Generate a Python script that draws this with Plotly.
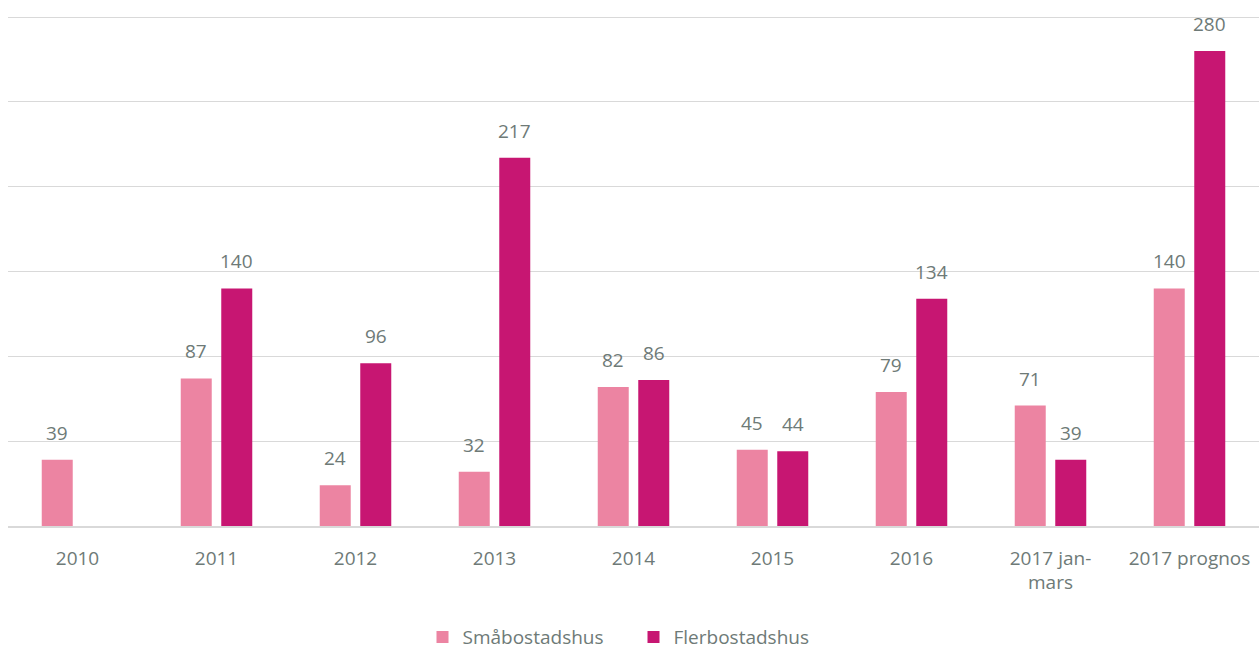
import plotly.graph_objects as go

categories = ["2010", "2011", "2012", "2013", "2014", "2015", "2016", "2017 jan-<br>mars", "2017 prognos"]
smabostadshus = [39, 87, 24, 32, 82, 45, 79, 71, 140]
flerbostadshus = [None, 140, 96, 217, 86, 44, 134, 39, 280]

text_color = "#6E7A77"
font_family = "Open Sans, Lato, sans-serif"
fsize = 19

fig = go.Figure()
fig.add_trace(go.Bar(
    name="Småbostadshus", x=categories, y=smabostadshus,
    marker=dict(color="#EC84A2", line=dict(width=0)),
))
fig.add_trace(go.Bar(
    name="Flerbostadshus", x=categories, y=flerbostadshus,
    marker=dict(color="#C71672", line=dict(width=0)),
))

annotations = []
for series, shift in ((smabostadshus, -20.25), (flerbostadshus, 20.25)):
    for i, v in enumerate(series):
        if v is None:
            continue
        annotations.append(dict(
            x=i, y=v, xref="x", yref="y", text=str(v), showarrow=False,
            xshift=shift, yshift=27, yanchor="middle", xanchor="center",
            font=dict(size=fsize, color=text_color, family=font_family),
        ))

fig.update_layout(
    width=1260, height=651,
    margin=dict(l=8, r=1, t=16, b=125, autoexpand=False),
    paper_bgcolor="white", plot_bgcolor="white",
    barmode="group", bargap=0.417, bargroupgap=0.235,
    font=dict(family=font_family, color=text_color, size=fsize),
    showlegend=True,
    legend=dict(orientation="h", x=0.5, xanchor="center", y=-0.218, yanchor="middle",
                entrywidth=166, entrywidthmode="pixels",
                font=dict(size=fsize, color=text_color), traceorder="normal"),
    annotations=annotations,
)
fig.update_xaxes(type="category", categoryorder="array", categoryarray=categories,
                 range=[-0.5, len(categories) - 0.5],
                 showgrid=False, showline=True, linecolor="#D9D9D9", linewidth=1.5,
                 tickfont=dict(size=fsize, color=text_color), ticks="outside", ticklen=14,
                 tickcolor="rgba(0,0,0,0)", automargin=False)
fig.update_yaxes(range=[0, 300.6], tickvals=[0, 50, 100, 150, 200, 250, 300], showgrid=True,
                 gridcolor="#D9D9D9", gridwidth=1.3,
                 showticklabels=False, zeroline=False, ticks="", automargin=False)

fig.write_html("out.html")
